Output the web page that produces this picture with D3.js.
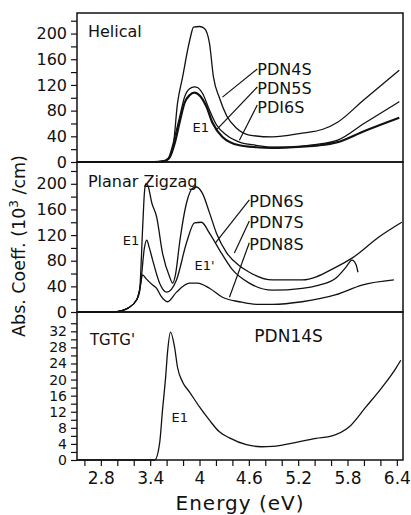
<!DOCTYPE html>
<html>
<head>
<meta charset="utf-8">
<script src="https://cdn.jsdelivr.net/npm/d3@7"></script>
<style>
  body { margin: 0; background: #fff; }
  text { font-family: "DejaVu Sans", Arial, sans-serif; fill: #111; }
</style>
</head>
<body>
<svg id="chart" width="411" height="515"></svg>
<script>
// energy tick labels (eV)
const xTickLabels = [2.8, 3.4, 4, 4.6, 5.2, 5.8, 6.4];
const helicalTicks = [0, 40, 80, 120, 160, 200];
const zigzagTicks = [0, 40, 80, 120, 160, 200];
const tgtgTicks = [0, 4, 8, 12, 16, 20, 24, 28, 32];

// [energy eV, abs. coeff. 10^3/cm]
const pdn4s = [[2.51,0],[3.40,0],[3.52,1],[3.60,3],[3.673,19],[3.733,92],[3.794,132],[3.855,174],[3.891,195],[3.927,210],[4.0,211],[4.06,208],[4.121,185],[4.17,132],[4.242,100],[4.33,72],[4.448,53],[4.606,42],[4.885,39],[5.248,45],[5.5,51],[5.68,62],[6.0,97],[6.43,143]];
const pdn5s = [[2.51,0],[3.45,0],[3.55,1],[3.62,6],[3.66,20],[3.71,45],[3.758,70],[3.818,101],[3.879,114],[3.939,117],[3.976,116],[4.036,107],[4.121,81],[4.206,58],[4.327,42],[4.485,31],[4.69,26],[4.885,23],[5.055,23],[5.4,27],[5.68,34],[6.0,60],[6.43,94]];
const pdi6s = [[2.51,0],[3.45,0],[3.56,1],[3.63,6],[3.70,30],[3.758,62],[3.818,92],[3.879,104],[3.939,108],[3.99,105],[4.085,86],[4.158,61],[4.279,39],[4.485,26],[4.69,23],[4.885,22],[5.25,24],[5.45,26],[5.68,31],[6.0,48],[6.43,69]];

const pdn6s = [[2.51,0],[2.95,0],[3.05,2],[3.13,6],[3.236,19],[3.27,31],[3.309,133],[3.33,186],[3.345,200],[3.37,198],[3.42,170],[3.479,148],[3.55,92],[3.636,55],[3.673,45],[3.71,60],[3.758,108],[3.842,170],[3.915,193],[3.964,195],[4.036,185],[4.121,155],[4.206,123],[4.327,93],[4.485,72],[4.606,62],[4.885,50],[5.25,50],[5.661,70],[5.855,84],[6.182,117],[6.46,140]];
const pdn7s = [[2.51,0],[2.95,0],[3.05,2],[3.13,6],[3.236,19],[3.285,45],[3.33,100],[3.358,112],[3.39,100],[3.43,81],[3.515,45],[3.6,31],[3.72,50],[3.842,108],[3.939,139],[4.024,140],[4.121,123],[4.242,97],[4.4,66],[4.606,45],[4.885,34],[5.248,37],[5.455,42],[5.661,53],[5.782,70],[5.855,81],[5.903,74],[5.927,62]];
const pdn8s = [[2.51,0],[2.95,0],[3.05,2],[3.13,6],[3.236,19],[3.273,35],[3.309,58],[3.35,52],[3.43,42],[3.479,37],[3.53,25],[3.612,16],[3.72,31],[3.879,45],[3.976,45],[4.121,37],[4.279,23],[4.485,16],[4.69,12],[4.885,12],[5.248,16],[5.661,27],[5.976,42],[6.364,50]];

const pdn14s = [[2.51,0],[3.455,0],[3.515,4.2],[3.55,12.4],[3.588,20.6],[3.612,27],[3.648,31.8],[3.697,28],[3.733,23],[3.794,19.4],[3.879,16.9],[4.0,13.2],[4.121,9.9],[4.242,7],[4.364,5.5],[4.57,3.8],[4.75,3.3],[4.885,3.4],[5.006,3.7],[5.418,5.4],[5.612,6.0],[5.818,8.2],[6.024,13.2],[6.218,18],[6.388,22.8],[6.448,24.8]];

const svg = d3.select("#chart");

const x = d3.scaleLinear().domain([2.51, 6.475]).range([77, 403]);

// three stacked panels sharing the energy axis
const panels = [
  {
    top: 13, bottom: 162, max: 232,
    ticks: d3.range(0, 221, 20), labels: helicalTicks, tickFont: 16,
    series: [{ data: pdn4s, w: 1.3 }, { data: pdn5s, w: 1.3 }, { data: pdi6s, w: 2.2 }],
    texts: [
      { t: "Helical", e: 2.643, v: 194, size: 16 },
      { t: "E1", e: 3.915, v: 47, size: 13 },
      { t: "PDN4S", e: 4.703, v: 135.5, size: 16 },
      { t: "PDN5S", e: 4.703, v: 105.9, size: 16 },
      { t: "PDI6S", e: 4.703, v: 76.3, size: 16 },
    ],
    leaders: [
      [[4.703, 144.8], [4.279, 101]],
      [[4.703, 116.8], [4.206, 50]],
      [[4.703, 88.7], [4.485, 34]],
    ],
  },
  {
    top: 162, bottom: 312, max: 234,
    ticks: d3.range(0, 221, 20), labels: zigzagTicks, tickFont: 16,
    series: [{ data: pdn6s, w: 1.3 }, { data: pdn7s, w: 1.3 }, { data: pdn8s, w: 1.3 }],
    texts: [
      { t: "Planar Zigzag", e: 2.643, v: 195, size: 16 },
      { t: "E1", e: 3.067, v: 105, size: 13 },
      { t: "E1'", e: 3.939, v: 66, size: 13 },
      { t: "PDN6S", e: 4.606, v: 164, size: 16 },
      { t: "PDN7S", e: 4.606, v: 131, size: 16 },
      { t: "PDN8S", e: 4.606, v: 97, size: 16 },
    ],
    leaders: [
      [[4.606, 175], [4.194, 108]],
      [[4.606, 142], [4.424, 92]],
      [[4.606, 108], [4.364, 23]],
    ],
  },
  {
    top: 312, bottom: 460, max: 36.8,
    ticks: d3.range(0, 35, 2), labels: tgtgTicks, tickFont: 14,
    series: [{ data: pdn14s, w: 1.3 }],
    texts: [
      { t: "TGTG'", e: 2.667, v: 28.6, size: 15 },
      { t: "PDN14S", e: 4.667, v: 29.3, size: 17 },
      { t: "E1", e: 3.66, v: 9.4, size: 13 },
    ],
    leaders: [],
  },
];

panels.forEach((p, i) => {
  const y = d3.scaleLinear().domain([0, p.max]).range([p.bottom, p.top]);
  const g = svg.append("g");

  const line = d3.line()
    .x((d) => x(d[0]))
    .y((d) => y(d[1]))
    .curve(d3.curveMonotoneX);

  g.selectAll(".curve")
    .data(p.series)
    .join("path")
    .attr("class", "curve")
    .attr("fill", "none")
    .attr("stroke", "#111")
    .attr("stroke-width", (d) => d.w)
    .attr("stroke-linejoin", "round")
    .attr("d", (d) => line(d.data));

  // left axis, labels only on the major ticks
  const yAxis = g.append("g")
    .attr("transform", `translate(${x.range()[0]},0)`)
    .call(d3.axisLeft(y)
      .tickValues(p.ticks)
      .tickSize(6)
      .tickPadding(4)
      .tickFormat((d) => (p.labels.includes(d) ? d : "")));
  yAxis.select(".domain").remove();
  yAxis.selectAll(".tick line").attr("stroke", "#111").attr("stroke-width", 1.2);
  yAxis.selectAll(".tick text")
    .style("font-family", "DejaVu Sans, sans-serif")
    .style("font-size", p.tickFont + "px")
    .attr("fill", "#111");

  // frame
  g.append("rect")
    .attr("x", x.range()[0])
    .attr("y", p.top)
    .attr("width", x.range()[1] - x.range()[0])
    .attr("height", p.bottom - p.top)
    .attr("fill", "none")
    .attr("stroke", "#111")
    .attr("stroke-width", 1.5);

  g.selectAll(".lbl")
    .data(p.texts)
    .join("text")
    .attr("class", "lbl")
    .attr("x", (d) => x(d.e))
    .attr("y", (d) => y(d.v))
    .style("font-size", (d) => d.size + "px")
    .text((d) => d.t);

  g.selectAll(".leader")
    .data(p.leaders)
    .join("line")
    .attr("class", "leader")
    .attr("x1", (d) => x(d[0][0]))
    .attr("y1", (d) => y(d[0][1]))
    .attr("x2", (d) => x(d[1][0]))
    .attr("y2", (d) => y(d[1][1]))
    .attr("stroke", "#111")
    .attr("stroke-width", 1.2);

  if (i === panels.length - 1) {
    const minor = d3.range(13, 33).map((k) => k / 5);
    const xAxis = g.append("g")
      .attr("transform", `translate(0,${p.bottom})`)
      .call(d3.axisBottom(x)
        .tickValues(minor)
        .tickSize(6)
        .tickPadding(6)
        .tickFormat((d) => (xTickLabels.some((t) => Math.abs(t - d) < 1e-6) ? d3.format("~g")(d) : "")));
    xAxis.select(".domain").remove();
    xAxis.selectAll(".tick line").attr("stroke", "#111").attr("stroke-width", 1.2);
    xAxis.selectAll(".tick text")
      .style("font-family", "DejaVu Sans, sans-serif")
      .style("font-size", "17px")
      .attr("fill", "#111");
  }
});

// axis titles
svg.append("text")
  .attr("x", 240)
  .attr("y", 510)
  .attr("text-anchor", "middle")
  .style("font-size", "20px")
  .style("letter-spacing", "1px")
  .text("Energy (eV)");

const yTitle = svg.append("text")
  .attr("transform", "translate(25,246) rotate(-90)")
  .attr("text-anchor", "middle")
  .style("font-size", "17.5px");
yTitle.append("tspan").text("Abs. Coeff. (10");
yTitle.append("tspan").attr("dy", -7).style("font-size", "12px").text("3");
yTitle.append("tspan").attr("dy", 7).text(" /cm)");
</script>
</body>
</html>
